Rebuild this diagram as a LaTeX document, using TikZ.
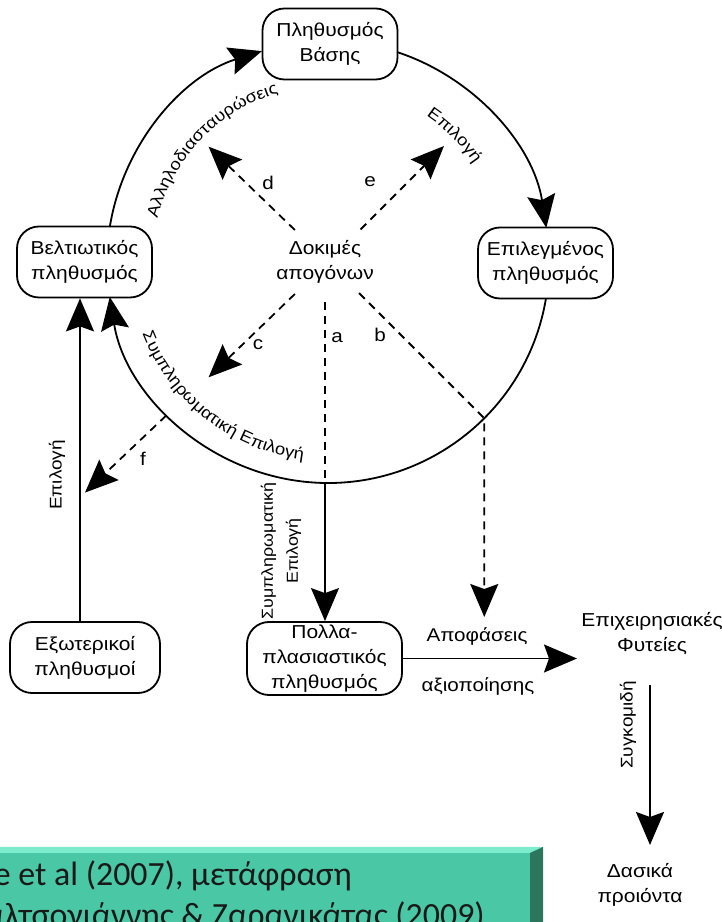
\documentclass[tikz,border=0pt]{standalone}
\usepackage{fontspec}
\setmainfont{Liberation Sans}[FakeStretch=1.12]
\newfontfamily\calib{Carlito}
\usetikzlibrary{arrows.meta,decorations.text,calc}
\newcommand\mynodefont{\fontsize{18.8}{25}\selectfont}
\newcommand\myarcfont{\fontsize{16.5}{16.5}\selectfont}
\newcommand\mylblfont{\fontsize{18.5}{25}\selectfont}
\newcommand\myvlblfont{\fontsize{17}{25}\selectfont}
\newcommand\mysmallvfont{\fontsize{16}{25}\selectfont}
\definecolor{boxface}{RGB}{74,200,165}
\definecolor{boxlight}{RGB}{125,236,205}
\definecolor{boxdark}{RGB}{44,118,94}
\begin{document}
\begin{tikzpicture}[x=1bp,y=1bp,
  pop/.style={draw, line width=1.8bp, rounded corners=22bp, minimum width=135bp,
    minimum height=71bp, inner sep=0pt, align=center, font=\mynodefont},
  txt/.style={inner sep=0pt, align=center, font=\mynodefont},
  lbl/.style={inner sep=0pt, align=center, font=\mylblfont},
  vlbl/.style={inner sep=0pt, align=center, font=\myvlblfont, rotate=90},
  arr/.style={line width=1.8bp, -{Stealth[length=33bp,width=28bp,inset=5bp]}},
  dsh/.style={dash pattern=on 8bp off 6bp},
  arctext/.style={decorate, decoration={text along path, text align=center, text={|\myarcfont|#1}}},
  cite/.style={anchor=base east, inner sep=0pt, font=\calib\fontsize{34}{40}\selectfont, text=black!90}
]
\useasboundingbox (0,0) rectangle (722,922);
\clip (0,0) rectangle (722,922);

% nodes
\coordinate (O) at (328,660);
\node[pop] (basis) at (330,878) {Πληθυσμός\\Βάσης};
\node[pop] (epil)  at (545.5,659) {Επιλεγμένος\\πληθυσμός};
\node[pop] (belt)  at (84.5,660) {Βελτιωτικός\\πληθυσμός};
\node[pop, minimum width=150bp] (ekso) at (85,264.5) {Εξωτερικοί\\πληθυσμοί};
\node[pop, minimum width=155bp, minimum height=73bp] (polla) at (324.5,263.5) {Πολλα-\\πλασιαστικός\\πληθυσμός};
\node[txt] (dok) at (325,660) {Δοκιμές\\απογόνων};
\node[txt] (epix) at (652,288.5) {Επιχειρησιακές\\Φυτείες};
\node[txt] (dasika) at (640,37) {Δασικά\\προιόντα};

% circle arcs
\draw[arr] ([shift={(170.9:221)}]O) arc[start angle=170.9, end angle=107.4, radius=221];
\draw[arr] ([shift={(71.8:221)}]O) arc[start angle=71.8, end angle=8.9, radius=221];
\draw[arr] ([shift={(-9.4:221)}]O) arc[start angle=-9.4, end angle=-170.9, radius=221];

% arc labels
\path[arctext={Αλληλοδιασταυρώσεις}] ([shift={(168:176)}]O) arc[start angle=168, end angle=104, radius=176];
\path[arctext={Επιλογή}] ([shift={(62:176)}]O) arc[start angle=62, end angle=28, radius=176];
\path[arctext={Συμπληρωματική Επιλογή}] ([shift={(192:199)}]O) arc[start angle=192, end angle=272, radius=199];

% radial dashed arrows
\coordinate (dS) at ($(O)+(136:46)$);  \coordinate (dT) at ($(O)+(136:166)$);
\coordinate (eS) at ($(O)+(45:46)$);   \coordinate (eT) at ($(O)+(45:164)$);
\coordinate (cS) at ($(O)+(224:46)$);  \coordinate (cT) at ($(O)+(224:166)$);
\coordinate (bS) at ($(O)+(-45:44)$);  \coordinate (bC) at ($(O)+(-45:221)$);
\coordinate (bT) at (bC |- 0,305);
\coordinate (fS) at ($(O)+(223.5:223)$); \coordinate (fT) at ($(O)+(223.5:335)$);
\coordinate (aS) at (325,620); \coordinate (aC) at (325,439);

\draw[arr,dsh] (dS) -- (dT);
\draw[arr,dsh] (eS) -- (eT);
\draw[arr,dsh] (cS) -- (cT);
\draw[arr,dsh] (bS) -- (bC) -- (bT);
\draw[arr,dsh] (fS) -- (fT);
\draw[line width=1.8bp,dsh] (aS) -- (aC);
\draw[arr] (aC) -- (aC |- polla.north);

\node[lbl] at (268,739) {d};
\node[lbl] at (370,740) {e};
\node[lbl] at (258,577) {c};
\node[lbl] at (337,584) {a};
\node[lbl] at (380,587) {b};
\node[lbl] at (143,463) {f};

% external populations -> breeding population
\draw[arr] ([xshift=-5bp]ekso.north) -- ([xshift=-4.5bp]belt.south);
\node[vlbl] at (57,447) {Επιλογή};
\node[vlbl, font=\mysmallvfont] at (281,371) {Συμπληρωματική\\Επιλογή};

% deployment
\coordinate (htip) at (577,263.5);
\draw[arr] (polla.east) -- (htip);
\node[lbl] at (477,286) {Αποφάσεις};
\node[lbl] at (478,236) {αξιοποίησης};
\coordinate (vs) at (650,237); \coordinate (ve) at (650,77);
\draw[arr] (vs) -- (ve);
\node[vlbl] at (628,197) {Συγκομιδή};

% green citation box
\fill[boxface] (-5,-10) rectangle (543,75);
\fill[boxlight] (-5,75) -- (543,75) -- (530,69) -- (-5,69) -- cycle;
\fill[boxdark] (543,75) -- (543,-10) -- (530,-10) -- (530,69) -- cycle;
\node[cite] at (352,36) {White et al (2007), μετάφραση};
\node[cite] at (485,-4) {Σκαλτσογιάννης \& Ζαρανικάτας (2009)};
\end{tikzpicture}
\end{document}
